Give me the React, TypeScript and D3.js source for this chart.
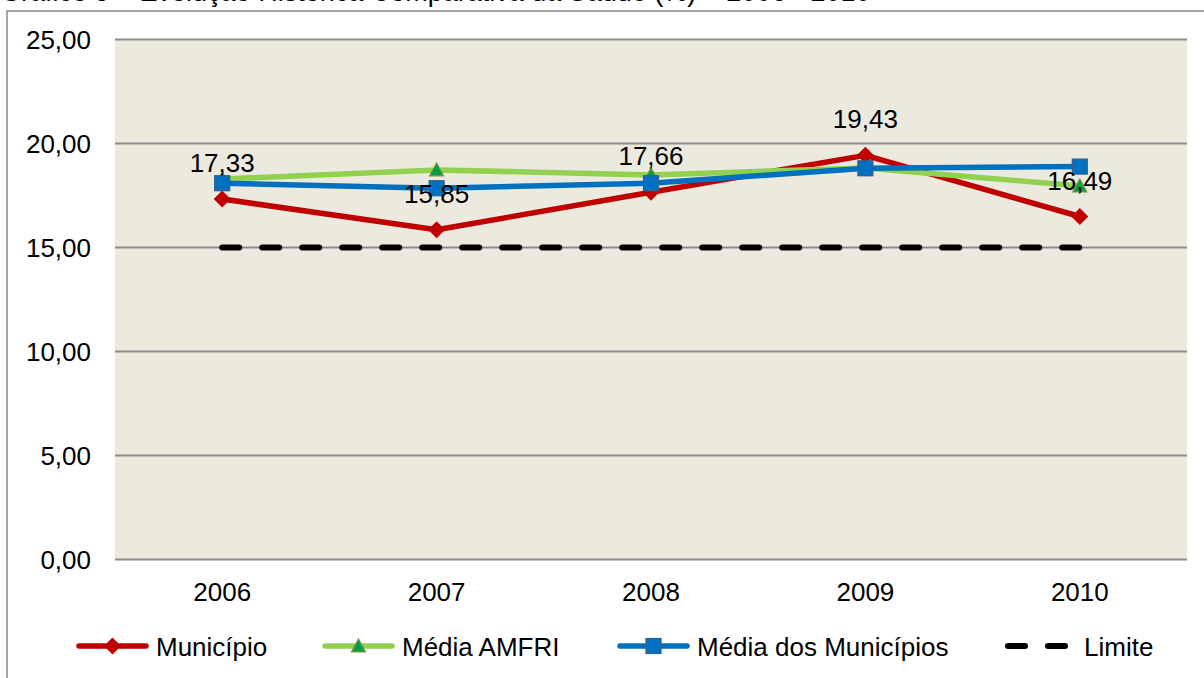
import { useEffect, useRef } from 'react'
import * as d3 from 'd3'

const years = ['2006', '2007', '2008', '2009', '2010']
const municipio = [17.33, 15.85, 17.66, 19.43, 16.49]
const mediaAmfri = [18.29, 18.73, 18.49, 18.82, 17.96]
const mediaMunicipios = [18.09, 17.85, 18.09, 18.81, 18.89]
const limite = [15, 15, 15, 15, 15]
const yTicks = [0, 5, 10, 15, 20, 25]

const FONT = '"Liberation Sans", Arial, sans-serif'
const FS = 26
const ptBR = d3.formatLocale({ decimal: ',', thousands: '.', grouping: [3], currency: ['R$', ''] })
const fmt = ptBR.format('.2f')

export default function App() {
  const svgRef = useRef<SVGSVGElement>(null)
  const W = 1204, H = 678

  useEffect(() => {
    const svg = d3.select(svgRef.current)
    svg.selectAll('*').remove()

    const plot = { left: 115, right: 1187, top: 39.5, bottom: 559.5 }
    const x = d3.scaleBand().domain(years).range([plot.left, plot.right]).padding(0)
    const cx = (d: string) => (x(d) ?? 0) + x.bandwidth() / 2
    const y = d3.scaleLinear().domain([0, 25]).range([plot.bottom, plot.top])

    // caption above the frame (cut off by the page edge, as in the source)
    svg.append('text').attr('x', 0).attr('y', 0.5)
      .attr('font-family', FONT).attr('font-size', 27).attr('fill', '#000')
      .text('Gráfico 5 – Evolução Histórica Comparativa da Saúde (%) – 2006 - 2010')

    // outer frame
    svg.append('rect').attr('x', 7).attr('y', 11).attr('width', W + 20).attr('height', H + 20)
      .attr('fill', '#fff').attr('stroke', '#8a8a8a').attr('stroke-width', 1.5)

    // plot area
    svg.append('rect').attr('x', plot.left).attr('y', plot.top)
      .attr('width', plot.right - plot.left).attr('height', plot.bottom - plot.top)
      .attr('fill', '#eceadf')

    // grid + y labels
    const gy = svg.append('g')
    gy.selectAll('line').data(yTicks).join('line')
      .attr('x1', plot.left).attr('x2', plot.right)
      .attr('y1', d => y(d)).attr('y2', d => y(d))
      .attr('stroke', '#8c8c8c').attr('stroke-width', 2)
    gy.selectAll('text').data(yTicks).join('text')
      .attr('x', 91).attr('y', d => y(d)).attr('dy', '0.35em')
      .attr('text-anchor', 'end').attr('font-family', FONT).attr('font-size', FS).attr('fill', '#000')
      .text(d => fmt(d))

    // x labels
    svg.append('g').selectAll('text').data(years).join('text')
      .attr('x', d => cx(d)).attr('y', 600.5)
      .attr('text-anchor', 'middle').attr('font-family', FONT).attr('font-size', FS).attr('fill', '#000')
      .text(d => d)

    const line = d3.line<number>().x((_, i) => cx(years[i])).y(d => y(d))

    // Limite
    svg.append('path').datum(limite).attr('d', line).attr('fill', 'none')
      .attr('stroke', '#000').attr('stroke-width', 6).attr('stroke-linecap', 'round')
      .attr('stroke-dasharray', '17 23')

    const diamond = (s: number) => `M0,${-s}L${s},0L0,${s}L${-s},0Z`
    const triangle = (s: number) => `M0,${-s}L${s},${s * 0.85}L${-s},${s * 0.85}Z`

    // Município
    svg.append('path').datum(municipio).attr('d', line).attr('fill', 'none')
      .attr('stroke', '#c00000').attr('stroke-width', 5.5).attr('stroke-linejoin', 'round')
    svg.append('g').selectAll('path').data(municipio).join('path')
      .attr('transform', (d, i) => `translate(${cx(years[i])},${y(d)})`)
      .attr('d', diamond(8.5)).attr('fill', '#c00000')

    // Média AMFRI
    svg.append('path').datum(mediaAmfri).attr('d', line).attr('fill', 'none')
      .attr('stroke', '#92d050').attr('stroke-width', 5.5).attr('stroke-linejoin', 'round')
    svg.append('g').selectAll('path').data(mediaAmfri).join('path')
      .attr('transform', (d, i) => `translate(${cx(years[i])},${y(d)})`)
      .attr('d', triangle(7)).attr('fill', '#00a04a').attr('stroke', '#77933c').attr('stroke-width', 1.2)

    // Média dos Municípios
    svg.append('path').datum(mediaMunicipios).attr('d', line).attr('fill', 'none')
      .attr('stroke', '#0070c0').attr('stroke-width', 5.5).attr('stroke-linejoin', 'round')
    svg.append('g').selectAll('rect').data(mediaMunicipios).join('rect')
      .attr('x', (d, i) => cx(years[i]) - 7.5).attr('y', d => y(d) - 7.5)
      .attr('width', 15).attr('height', 15)
      .attr('fill', '#0070c0').attr('stroke', '#385d8a').attr('stroke-width', 1.2)

    // data labels (Município)
    svg.append('g').selectAll('text').data(municipio).join('text')
      .attr('x', (d, i) => cx(years[i])).attr('y', d => y(d) - 27)
      .attr('text-anchor', 'middle').attr('font-family', FONT).attr('font-size', FS).attr('fill', '#000')
      .text(d => fmt(d))

    // legend
    const legend = [
      { name: 'Município', x0: 77, kind: 'diamond', color: '#c00000' },
      { name: 'Média AMFRI', x0: 323, kind: 'triangle', color: '#92d050' },
      { name: 'Média dos Municípios', x0: 618, kind: 'square', color: '#0070c0' },
      { name: 'Limite', x0: 1005, kind: 'dash', color: '#000' },
    ]
    const ly = 646
    const lg = svg.append('g')
    legend.forEach(it => {
      const g = lg.append('g')
      if (it.kind === 'dash') {
        g.append('line').attr('x1', it.x0 + 3).attr('x2', it.x0 + 68).attr('y1', ly).attr('y2', ly)
          .attr('stroke', '#000').attr('stroke-width', 6).attr('stroke-linecap', 'round')
          .attr('stroke-dasharray', '17 23')
      } else {
        g.append('line').attr('x1', it.x0 + 2).attr('x2', it.x0 + 69).attr('y1', ly).attr('y2', ly)
          .attr('stroke', it.color).attr('stroke-width', 5.5).attr('stroke-linecap', 'round')
        const m = it.x0 + 35.5
        if (it.kind === 'diamond') g.append('path').attr('transform', `translate(${m},${ly})`).attr('d', diamond(8.5)).attr('fill', it.color)
        if (it.kind === 'triangle') g.append('path').attr('transform', `translate(${m},${ly})`).attr('d', triangle(7)).attr('fill', '#00a04a').attr('stroke', '#77933c').attr('stroke-width', 1.2)
        if (it.kind === 'square') g.append('rect').attr('x', m - 7.5).attr('y', ly - 7.5).attr('width', 15).attr('height', 15).attr('fill', '#0070c0').attr('stroke', '#385d8a').attr('stroke-width', 1.2)
      }
      g.append('text').attr('x', it.x0 + 79).attr('y', 656)
        .attr('font-family', FONT).attr('font-size', FS).attr('fill', '#000')
        .text(it.name)
    })
  }, [])

  return (
    <div style={{ position: 'fixed', left: 0, top: 0, width: W, height: H, overflow: 'hidden', background: '#fff' }}>
      <svg ref={svgRef} width={W} height={H} style={{ display: 'block' }} />
    </div>
  )
}
